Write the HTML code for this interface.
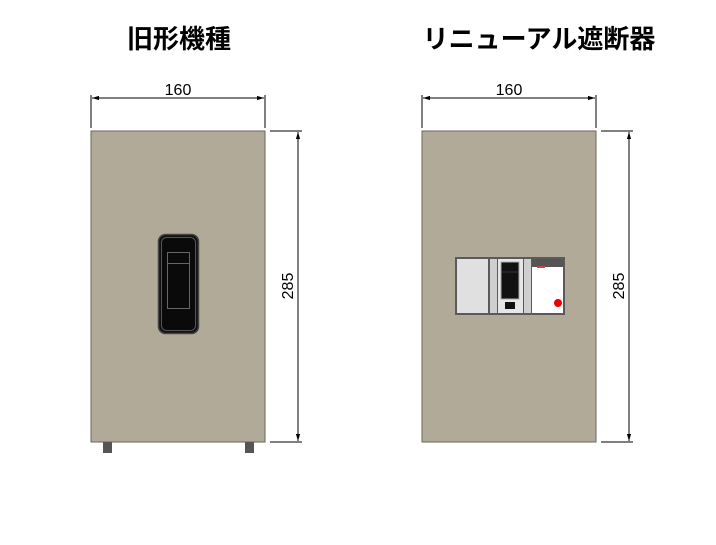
<!DOCTYPE html>
<html><head><meta charset="utf-8"><style>
body{margin:0;background:#fff;width:716px;height:540px;overflow:hidden}
text{font-family:"Liberation Sans","Noto Sans CJK JP",sans-serif}
</style></head><body>
<svg width="716" height="540" viewBox="0 0 716 540" xmlns="http://www.w3.org/2000/svg">
<defs>
<marker id="a" viewBox="0 0 10 10" refX="10" refY="5" markerWidth="7" markerHeight="7" orient="auto-start-reverse"><path d="M0,2 L10,5 L0,8 z" fill="#000"/></marker>
</defs>
<text x="179" y="48" font-size="26" font-weight="bold" text-anchor="middle">旧形機種</text>
<text x="539" y="48" font-size="26" font-weight="bold" text-anchor="middle">リニューアル遮断器</text>

<g id="L">
<line x1="91" y1="95" x2="91" y2="128" stroke="#000" stroke-width="1"/>
<line x1="265" y1="95" x2="265" y2="128" stroke="#000" stroke-width="1"/>
<line x1="92" y1="98" x2="264" y2="98" stroke="#000" marker-start="url(#a)" marker-end="url(#a)"/>
<text x="178" y="95" font-size="16" text-anchor="middle" font-weight="300">160</text>
<rect x="91" y="131" width="174" height="311" fill="#b2aa99" stroke="#6b665c"/>
<line x1="270" y1="131" x2="302" y2="131" stroke="#000"/>
<line x1="270" y1="442" x2="302" y2="442" stroke="#000"/>
<line x1="298" y1="132" x2="298" y2="441" stroke="#000" marker-start="url(#a)" marker-end="url(#a)"/>
<text x="0" y="0" font-size="16" text-anchor="middle" transform="translate(293,286) rotate(-90)">285</text>
</g>
<rect x="103" y="442" width="9" height="11" fill="#555"/>
<rect x="245" y="442" width="9" height="11" fill="#555"/>
<rect x="158.5" y="234.5" width="40" height="99" rx="7" fill="#111" stroke="#444" stroke-width="1.5"/>
<rect x="161.5" y="237.5" width="34" height="93" rx="5" fill="#0a0a0a" stroke="#555" stroke-width="1"/>
<rect x="167.5" y="252.5" width="22" height="56" fill="none" stroke="#666"/>
<line x1="167" y1="263.5" x2="190" y2="263.5" stroke="#666"/>

<use href="#L" x="331"/>
<rect x="455" y="257" width="110" height="58" fill="#5a5a5a"/>
<rect x="457" y="259" width="31" height="54" fill="#e0e0e0"/>
<rect x="490" y="259" width="7" height="54" fill="#cfcfcf"/>
<rect x="498" y="259" width="25" height="54" fill="#e6e6e6"/>
<rect x="501" y="262" width="18" height="37" fill="#111" stroke="#aaa"/>
<line x1="502" y1="272" x2="518" y2="272" stroke="#333"/>
<rect x="505" y="302" width="10" height="7" fill="#111"/>
<rect x="524" y="259" width="7" height="54" fill="#cfcfcf"/>
<rect x="532" y="259" width="31" height="54" fill="#fff"/>
<rect x="532" y="259" width="31" height="8" fill="#555"/>
<rect x="537" y="266" width="8" height="2" fill="#c44"/>
<circle cx="558" cy="303" r="4" fill="#e00"/>
</svg>
</body></html>
